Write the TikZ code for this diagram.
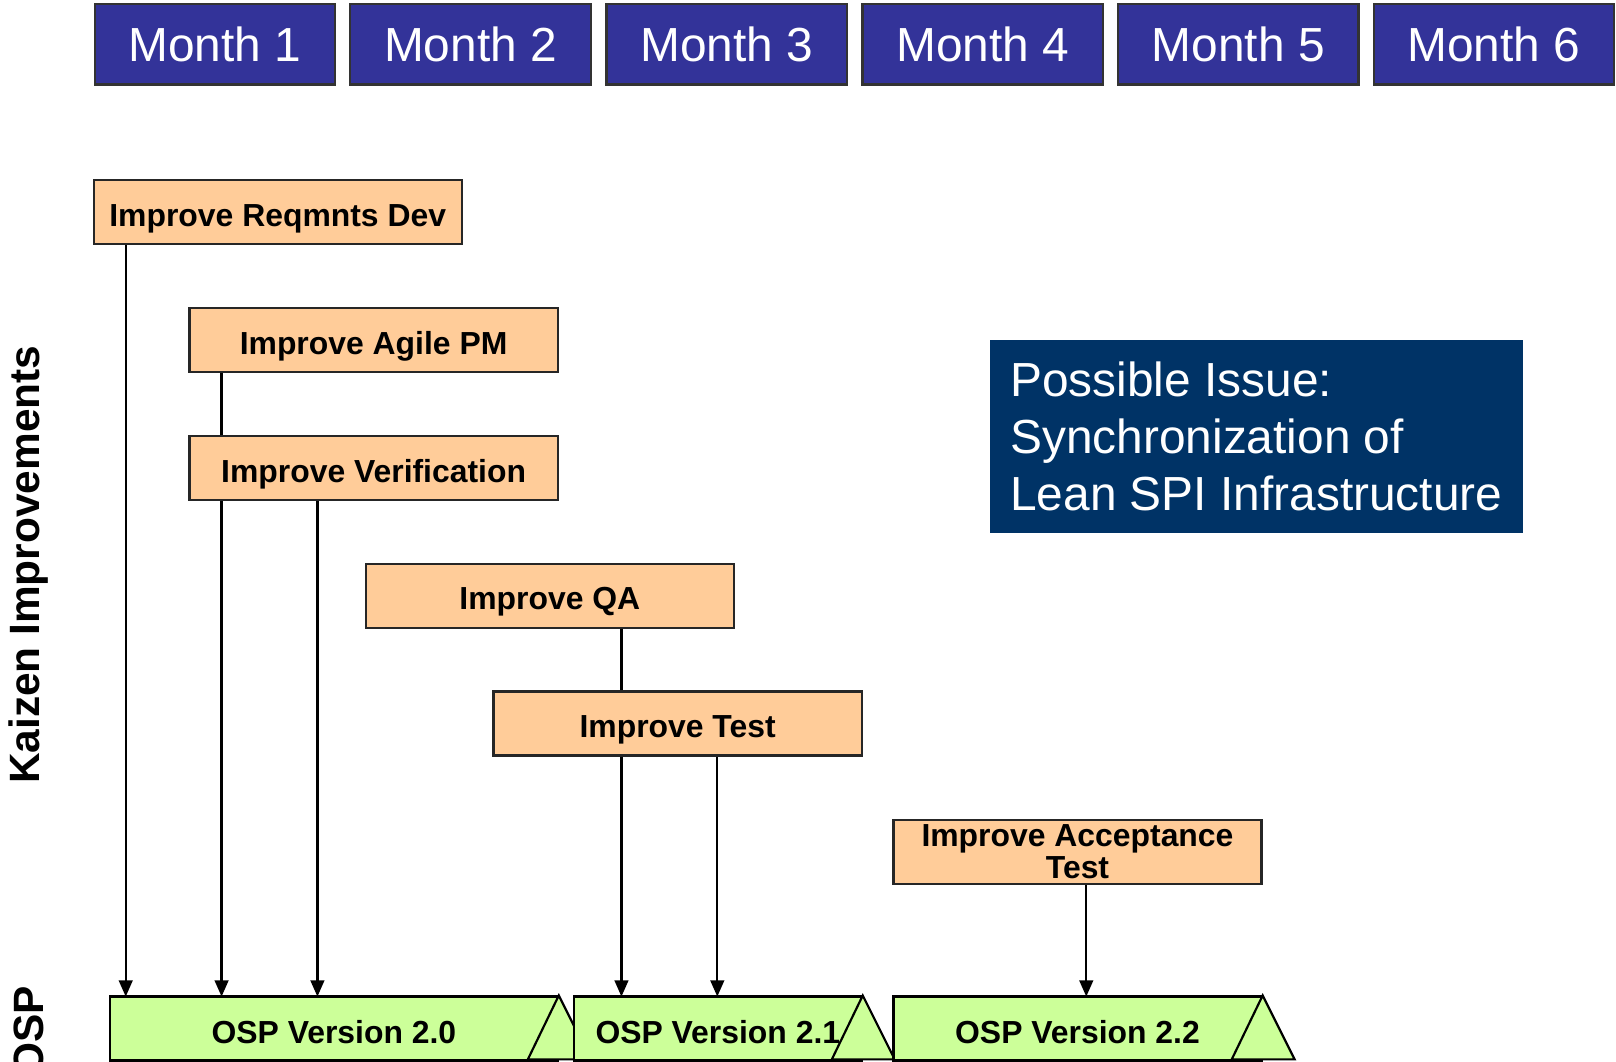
\documentclass[tikz,border=0pt]{standalone}
\usepackage{fontspec}
\setmainfont{Liberation Sans}
\usepackage{xcolor}
\usepackage{tikz}
\usetikzlibrary{arrows.meta}
\definecolor{monthblue}{HTML}{333399}
\definecolor{kaizenorange}{HTML}{FFCC99}
\definecolor{ospgreen}{HTML}{CCFF99}
\definecolor{issuenavy}{HTML}{003366}

\begin{document}
\begin{tikzpicture}[x=0.01cm, y=-0.01cm,
    monthbox/.style={draw=black!80, line width=0.6pt, fill=monthblue, text=white,
      minimum width=2.33cm, minimum height=0.78cm, inner sep=0pt,
      font=\fontsize{13.2}{15}\selectfont},
    kaizenbox/.style={draw=black!85, line width=0.6pt, fill=kaizenorange,
      minimum width=3.57cm, minimum height=0.62cm, inner sep=0pt, align=center,
      text height=0.78em, text depth=0pt,
      font=\fontsize{8.8}{7.6}\selectfont\bfseries},
    ospbox/.style={draw=black, line width=0.6pt, fill=ospgreen, minimum height=0.62cm,
      inner sep=0pt, text height=0.8em, text depth=0pt,
      font=\fontsize{8.8}{10}\selectfont\bfseries},
    osptip/.style={draw=black, line width=0.6pt, fill=ospgreen, line join=miter},
    issuebox/.style={fill=issuenavy, text=white, align=left, minimum width=5.16cm,
      inner xsep=0.2cm, inner ysep=0pt, minimum height=1.87cm,
      font=\fontsize{13.2}{15.8}\selectfont},
    sidelabel/.style={rotate=90, font=\fontsize{11.7}{14}\selectfont\bfseries},
    feed/.style={-{Triangle[length=4.5pt,width=3.8pt]}, line width=0.6pt}]

      \useasboundingbox (0,0) rectangle (1568,1030.4);

      \node[monthbox](Month1) at (208.5, 43) {Month 1};
      \node[monthbox](Month2) at (456.5, 43) {Month 2};
      \node[monthbox](Month3) at (705, 43) {Month 3};
      \node[monthbox](Month4) at (953.5, 43) {Month 4};
      \node[monthbox](Month5) at (1201.5, 43) {Month 5};
      \node[monthbox](Month6) at (1449.5, 43) {Month 6};

      \node[sidelabel](Kaizen) at (28, 548) {Kaizen Improvements};
      \node[sidelabel](Osp) at (28, 1000) {OSP};

      \node[kaizenbox](ImpReqmnts) at (269.5, 206) {Improve Reqmnts Dev};
      \node[kaizenbox](ImpAgile) at (362.5, 330) {Improve Agile PM};
      \node[kaizenbox](ImpVerif) at (362.5, 454) {Improve Verification};
      \node[kaizenbox](ImpQA) at (533.5, 578) {Improve QA};
      \node[kaizenbox](ImpTest) at (657.5, 702) {Improve Test};
      \node[kaizenbox, text height={}, text depth={}](ImpAccept) at (1045.5, 826.5) {Improve Acceptance\\Test};

      \node[issuebox](Issue) at (1219, 423.5) {Possible Issue:\\Synchronization of\\Lean SPI Infrastructure};

      \node[ospbox, minimum width=4.34cm](Osp20) at (324, 998) {OSP Version 2.0};
      \filldraw[osptip] (Osp20.north east) -- ++(-30, 62) -- ++(61, 0) -- cycle;
      \node[ospbox, minimum width=2.79cm](Osp21) at (696.5, 998) {OSP Version 2.1};
      \filldraw[osptip] (Osp21.north east) -- ++(-30, 62) -- ++(61, 0) -- cycle;
      \node[ospbox, minimum width=3.57cm](Osp22) at (1045.5, 998) {OSP Version 2.2};
      \filldraw[osptip] (Osp22.north east) -- ++(-30, 62) -- ++(61, 0) -- cycle;

      \coordinate(Hit1) at (122, 967);
      \coordinate(Hit2) at (215, 967);
      \coordinate(Hit3) at (308, 967);
      \coordinate(Hit4) at (603, 967);
      \coordinate(Hit5) at (696, 967);
      \coordinate(Hit6) at (1054, 967);

      \draw[line width=0.6pt] (ImpAgile.south -| Hit2) -- (ImpVerif.north -| Hit2)
                              (ImpQA.south -| Hit4) -- (ImpTest.north -| Hit4);
      \draw[feed] (ImpReqmnts.south -| Hit1) -- (Hit1);
      \draw[feed] (ImpVerif.south -| Hit2) -- (Hit2);
      \draw[feed] (ImpVerif.south -| Hit3) -- (Hit3);
      \draw[feed] (ImpTest.south -| Hit4) -- (Hit4);
      \draw[feed] (ImpTest.south -| Hit5) -- (Hit5);
      \draw[feed] (ImpAccept.south -| Hit6) -- (Hit6);
    \end{tikzpicture}
\end{document}
